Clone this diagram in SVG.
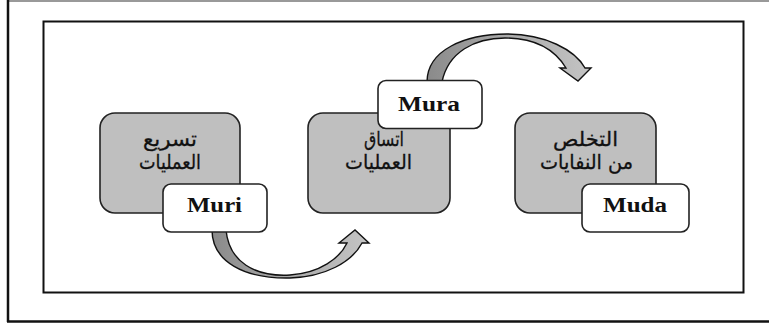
<svg xmlns="http://www.w3.org/2000/svg" width="769" height="325" viewBox="0 0 769 325">
<style>
.frame{fill:none;stroke:#111;stroke-width:2}
.gbox{fill:#bfbfbf;stroke:#222;stroke-width:1.6}
.wbox{fill:#fff;stroke:#222;stroke-width:1.6}
.ar{font-family:"DejaVu Sans",sans-serif;font-size:20px;fill:#111;text-anchor:middle;stroke:#111;stroke-width:0.3}
.lab{font-family:"Liberation Serif","Times New Roman",serif;font-weight:bold;font-size:20px;fill:#111;text-anchor:middle}
.arrow{stroke:#111;stroke-width:1.4;stroke-linejoin:miter}
</style>
<defs>
<linearGradient id="g1" x1="0" y1="0" x2="1" y2="0">
<stop offset="0" stop-color="#8a8a8a"/>
<stop offset="0.45" stop-color="#a8a8a8"/>
<stop offset="1" stop-color="#c4c4c4"/>
</linearGradient>
</defs>
<rect x="0" y="0" width="769" height="325" fill="#fff"/>
<line x1="7" y1="1" x2="769" y2="1" stroke="#999" stroke-width="2"/>
<line x1="8" y1="0" x2="8" y2="322" stroke="#111" stroke-width="2.5"/>
<line x1="7" y1="321.5" x2="769" y2="321.5" stroke="#111" stroke-width="2.5"/>
<rect class="frame" x="43.5" y="21.5" width="700" height="271"/>
<g id="node-tasri">
<rect class="gbox" x="100" y="113" width="140" height="100" rx="15"/>
<text class="ar" x="170" y="146" textLength="54" lengthAdjust="spacingAndGlyphs">تسريع</text>
<text class="ar" x="170" y="169" textLength="62" lengthAdjust="spacingAndGlyphs">العمليات</text>
</g>
<g id="node-ittisaq">
<rect class="gbox" x="308" y="113" width="142" height="100" rx="15"/>
<text class="ar" x="384" y="146" textLength="40" lengthAdjust="spacingAndGlyphs">اتساق</text>
<text class="ar" x="378.5" y="169" textLength="67" lengthAdjust="spacingAndGlyphs">العمليات</text>
</g>
<g id="node-takhallus">
<rect class="gbox" x="515" y="113" width="141" height="100" rx="15"/>
<text class="ar" x="585.5" y="146" textLength="65" lengthAdjust="spacingAndGlyphs">التخلص</text>
<text class="ar" x="586.5" y="169" textLength="93" lengthAdjust="spacingAndGlyphs">من النفايات</text>
</g>
<g id="connectors">
<path class="arrow" fill="url(#g1)" d="M 212 230 C 212 262, 245 279, 290 278 C 325 277, 352 262, 362 243 L 369 243 L 355 230 L 339 243 L 347 243 C 340 258, 320 273, 290 275 C 255 277, 229 262, 226 230 Z"/>
<path class="arrow" fill="url(#g1)" d="M 427 82 C 427 50, 465 34, 507 34 C 545 34, 575 50, 585 68 L 591 68 L 578 81 L 560 68 L 566 68 C 555 50, 535 38, 505 38 C 475 38, 448 52, 442 82 Z"/>
</g>
<g id="node-muri">
<rect class="wbox" x="163" y="184" width="104" height="48" rx="8"/>
<text class="lab" x="214.5" y="212" textLength="55" lengthAdjust="spacingAndGlyphs">Muri</text>
</g>
<g id="node-mura">
<rect class="wbox" x="378" y="80.5" width="104" height="48" rx="8"/>
<text class="lab" x="429" y="110.5" textLength="62" lengthAdjust="spacingAndGlyphs">Mura</text>
</g>
<g id="node-muda">
<rect class="wbox" x="582" y="184" width="107" height="48" rx="8"/>
<text class="lab" x="635" y="212" textLength="64" lengthAdjust="spacingAndGlyphs">Muda</text>
</g>
</svg>
